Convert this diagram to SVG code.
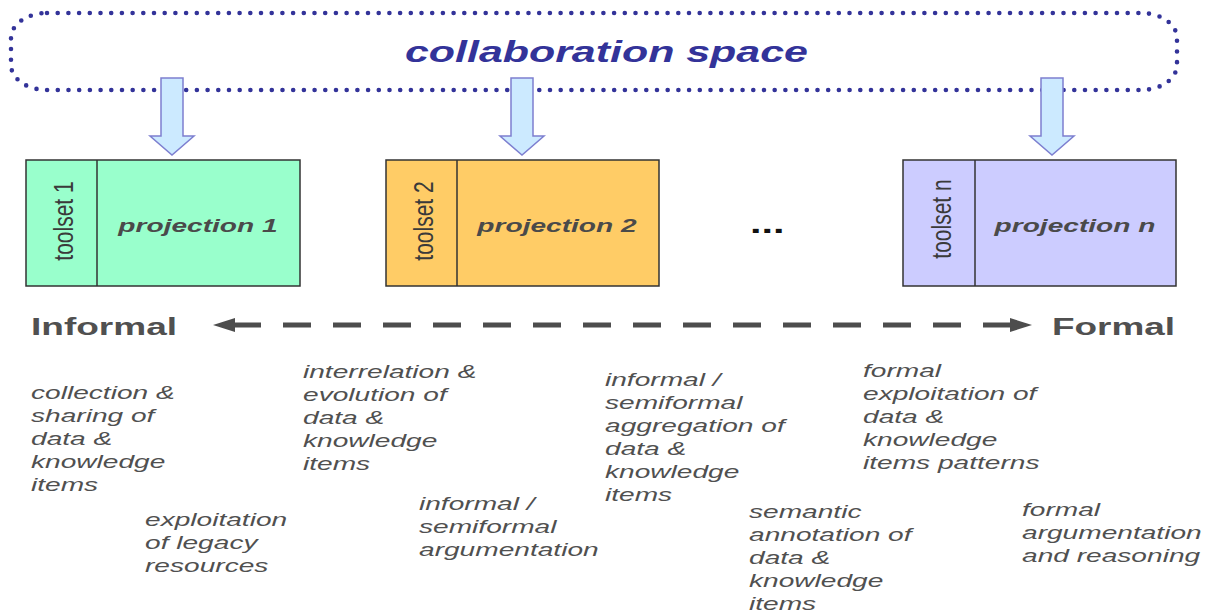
<svg xmlns="http://www.w3.org/2000/svg" width="1214" height="613" viewBox="0 0 1214 613">
<style>
.cs{font-family:"Liberation Sans",Arial,sans-serif;font-weight:bold;font-style:italic;font-size:29px;fill:#333399}
.tool{font-family:"Liberation Sans",Arial,sans-serif;font-size:21px;fill:#3a3a3a;text-anchor:middle}
.proj{font-family:"Liberation Sans",Arial,sans-serif;font-weight:bold;font-style:italic;font-size:19px;fill:#4a4a4a;text-anchor:middle}
.end{font-family:"Liberation Sans",Arial,sans-serif;font-weight:bold;font-size:23px;fill:#505050}
.desc{font-family:"Liberation Sans",Arial,sans-serif;font-style:italic;font-size:19px;fill:#505050}
.box{stroke:#333;stroke-width:1.5}
.down{fill:#cceaff;stroke:#7d7fd0;stroke-width:1.5;stroke-linejoin:miter}
</style>
<rect width="1214" height="613" fill="#ffffff"/>
<g id="collaboration-space">
<rect x="11" y="13" width="1166" height="77" rx="36" ry="25" fill="none" stroke="#333399" stroke-width="4.6" stroke-linecap="round" stroke-dasharray="0 10.7"/>
<text class="cs" transform="translate(405,62) scale(1.48,1)">collaboration space</text>
</g>
<g id="connectors">
<path class="down" d="M161,78 H183 V136 H194 L172,155 L150,136 H161 Z"/>
<path class="down" d="M511,78 H533 V136 H544 L522,155 L500,136 H511 Z"/>
<path class="down" d="M1041,78 H1063 V136 H1074 L1052,155 L1030,136 H1041 Z"/>
<line x1="233" y1="325" x2="1011" y2="325" stroke="#4d4d4d" stroke-width="5" stroke-dasharray="28 22"/>
<polygon points="213,325 235,318 235,332" fill="#4d4d4d"/>
<polygon points="1032,325 1010,318 1010,332" fill="#4d4d4d"/>
</g>
<g id="projection-1">
<rect class="box" x="26" y="160" width="274" height="126" fill="#99ffcc"/>
<line class="box" x1="97" y1="160" x2="97" y2="286"/>
<text class="tool" transform="translate(73,221) scale(1.3,1) rotate(-90)">toolset 1</text>
<text class="proj" transform="translate(198,232) scale(1.48,1)">projection 1</text>
</g>
<g id="projection-2">
<rect class="box" x="386" y="160" width="273" height="126" fill="#ffcc66"/>
<line class="box" x1="457" y1="160" x2="457" y2="286"/>
<text class="tool" transform="translate(433,221) scale(1.3,1) rotate(-90)">toolset 2</text>
<text class="proj" transform="translate(557,232) scale(1.48,1)">projection 2</text>
</g>
<g id="ellipsis">
<text transform="translate(750,233) scale(1.48,1)" font-family="Liberation Sans, Arial, sans-serif" font-weight="bold" font-size="28" fill="#111">...</text>
</g>
<g id="projection-n">
<rect class="box" x="903" y="160" width="273" height="126" fill="#ccccff"/>
<line class="box" x1="975" y1="160" x2="975" y2="286"/>
<text class="tool" transform="translate(951,219) scale(1.3,1) rotate(-90)">toolset n</text>
<text class="proj" transform="translate(1075,232) scale(1.48,1)">projection n</text>
</g>
<g id="informal"><text class="end" x="31" y="335" textLength="146" lengthAdjust="spacingAndGlyphs">Informal</text></g>
<g id="formal"><text class="end" x="1052" y="335" textLength="123" lengthAdjust="spacingAndGlyphs">Formal</text></g>
<g id="desc-collection">
<text class="desc" transform="translate(31,399) scale(1.48,1)"><tspan x="0" y="0">collection &amp;</tspan><tspan x="0" y="23">sharing of</tspan><tspan x="0" y="46">data &amp;</tspan><tspan x="0" y="69">knowledge</tspan><tspan x="0" y="92">items</tspan></text>
</g>
<g id="desc-legacy">
<text class="desc" transform="translate(145,526) scale(1.48,1)"><tspan x="0" y="0">exploitation</tspan><tspan x="0" y="23">of legacy</tspan><tspan x="0" y="46">resources</tspan></text>
</g>
<g id="desc-interrelation">
<text class="desc" transform="translate(303,378) scale(1.48,1)"><tspan x="0" y="0">interrelation &amp;</tspan><tspan x="0" y="23">evolution of</tspan><tspan x="0" y="46">data &amp;</tspan><tspan x="0" y="69">knowledge</tspan><tspan x="0" y="92">items</tspan></text>
</g>
<g id="desc-argumentation">
<text class="desc" transform="translate(419,510) scale(1.48,1)"><tspan x="0" y="0">informal /</tspan><tspan x="0" y="23">semiformal</tspan><tspan x="0" y="46">argumentation</tspan></text>
</g>
<g id="desc-aggregation">
<text class="desc" transform="translate(605,386) scale(1.48,1)"><tspan x="0" y="0">informal /</tspan><tspan x="0" y="23">semiformal</tspan><tspan x="0" y="46">aggregation of</tspan><tspan x="0" y="69">data &amp;</tspan><tspan x="0" y="92">knowledge</tspan><tspan x="0" y="115">items</tspan></text>
</g>
<g id="desc-semantic">
<text class="desc" transform="translate(749,518) scale(1.48,1)"><tspan x="0" y="0">semantic</tspan><tspan x="0" y="23">annotation of</tspan><tspan x="0" y="46">data &amp;</tspan><tspan x="0" y="69">knowledge</tspan><tspan x="0" y="92">items</tspan></text>
</g>
<g id="desc-formal-exploitation">
<text class="desc" transform="translate(863,377) scale(1.48,1)"><tspan x="0" y="0">formal</tspan><tspan x="0" y="23">exploitation of</tspan><tspan x="0" y="46">data &amp;</tspan><tspan x="0" y="69">knowledge</tspan><tspan x="0" y="92">items patterns</tspan></text>
</g>
<g id="desc-formal-argumentation">
<text class="desc" transform="translate(1022,516) scale(1.48,1)"><tspan x="0" y="0">formal</tspan><tspan x="0" y="23">argumentation</tspan><tspan x="0" y="46">and reasoning</tspan></text>
</g>
</svg>
